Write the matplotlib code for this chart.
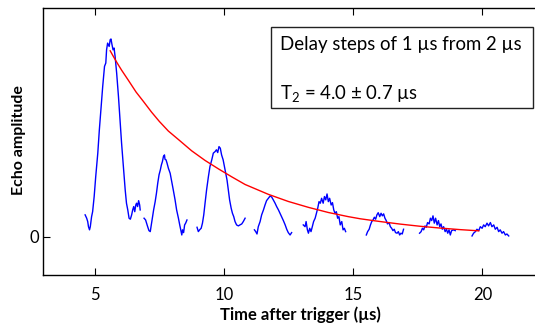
import matplotlib
matplotlib.use("Agg")
import matplotlib.pyplot as plt
from matplotlib.patches import Rectangle

# Trazas del eco (tiempo en us, amplitud normalizada al pico)
eco1_t = [4.63, 4.69, 4.73, 4.76, 4.80, 4.83, 4.88, 4.92, 4.98, 5.04, 5.12, 5.18, 5.25, 5.31, 5.38,
          5.43, 5.46, 5.50, 5.56, 5.60, 5.63, 5.67, 5.71, 5.75, 5.79, 5.85, 5.92, 5.98, 6.04, 6.11,
          6.18, 6.23, 6.28, 6.33, 6.38, 6.43, 6.47, 6.51, 6.55, 6.59, 6.62, 6.66, 6.70, 6.74, 6.76]
eco1_y = [0.112, 0.095, 0.078, 0.052, 0.036, 0.052, 0.103, 0.128, 0.205, 0.306, 0.425, 0.543, 0.661, 0.763, 0.865,
          0.882, 0.949, 0.983, 0.966, 1.000, 1.004, 0.975, 0.949, 0.958, 0.915, 0.831, 0.712, 0.594, 0.476, 0.357,
          0.239, 0.171, 0.137, 0.095, 0.090, 0.112, 0.137, 0.154, 0.128, 0.162, 0.171, 0.154, 0.184, 0.162, 0.137]

eco2_t = [6.91, 6.97, 7.04, 7.10, 7.15, 7.19, 7.24, 7.28, 7.34, 7.39, 7.44, 7.49, 7.54, 7.58, 7.62,
          7.66, 7.70, 7.72, 7.76, 7.80, 7.85, 7.92, 7.98, 8.04, 8.11, 8.17, 8.24, 8.29, 8.33, 8.37,
          8.40, 8.44, 8.48, 8.52, 8.57]
eco2_y = [0.095, 0.086, 0.056, 0.032, 0.027, 0.061, 0.103, 0.137, 0.179, 0.222, 0.273, 0.315, 0.340, 0.365, 0.382,
          0.408, 0.416, 0.394, 0.391, 0.374, 0.349, 0.323, 0.281, 0.239, 0.188, 0.137, 0.095, 0.061, 0.036, 0.010,
          0.036, 0.022, 0.061, 0.070, 0.086]

eco3_t = [8.96, 9.01, 9.06, 9.12, 9.17, 9.22, 9.27, 9.33, 9.40, 9.46, 9.53, 9.59, 9.66, 9.71, 9.76,
          9.81, 9.86, 9.91, 9.97, 10.02, 10.07, 10.12, 10.17, 10.22, 10.28, 10.33, 10.38, 10.43, 10.49, 10.56,
          10.62, 10.69, 10.75, 10.82]
eco3_y = [0.049, 0.027, 0.036, 0.044, 0.070, 0.112, 0.171, 0.239, 0.306, 0.357, 0.391, 0.425, 0.433, 0.442, 0.428,
          0.458, 0.450, 0.416, 0.391, 0.357, 0.323, 0.289, 0.239, 0.188, 0.146, 0.120, 0.103, 0.078, 0.061, 0.056,
          0.061, 0.066, 0.078, 0.095]

eco4_t = [11.18, 11.23, 11.28, 11.33, 11.40, 11.46, 11.53, 11.59, 11.65, 11.72, 11.79, 11.85, 11.91, 11.98, 12.04,
          12.11, 12.17, 12.23, 12.30, 12.37, 12.43, 12.49, 12.56, 12.62]
eco4_y = [0.036, 0.027, 0.015, 0.052, 0.078, 0.112, 0.137, 0.162, 0.184, 0.196, 0.208, 0.202, 0.188, 0.171, 0.154,
          0.137, 0.120, 0.103, 0.083, 0.061, 0.039, 0.022, 0.010, 0.022]

eco5_t = [13.07, 13.14, 13.18, 13.23, 13.27, 13.32, 13.37, 13.42, 13.47, 13.53, 13.58, 13.63, 13.68, 13.73, 13.78,
          13.84, 13.89, 13.94, 13.99, 14.04, 14.09, 14.15, 14.20, 14.25, 14.30, 14.35, 14.40, 14.45, 14.50, 14.56,
          14.61, 14.66, 14.71]
eco5_y = [0.061, 0.052, 0.078, 0.036, 0.019, 0.044, 0.027, 0.052, 0.078, 0.095, 0.120, 0.146, 0.179, 0.171, 0.196,
          0.171, 0.205, 0.188, 0.218, 0.179, 0.196, 0.162, 0.174, 0.137, 0.120, 0.128, 0.095, 0.103, 0.061, 0.078,
          0.036, 0.044, 0.027]

eco6_t = [15.51, 15.56, 15.62, 15.67, 15.72, 15.77, 15.82, 15.87, 15.92, 15.97, 16.03, 16.08, 16.13, 16.18, 16.23,
          16.28, 16.33, 16.39, 16.44, 16.49, 16.54, 16.59, 16.64, 16.70, 16.75, 16.80, 16.85, 16.90, 16.95]
eco6_y = [0.010, 0.027, 0.039, 0.061, 0.078, 0.086, 0.100, 0.090, 0.112, 0.123, 0.103, 0.120, 0.107, 0.117, 0.095,
          0.083, 0.066, 0.073, 0.052, 0.044, 0.032, 0.039, 0.022, 0.019, 0.027, 0.010, 0.019, 0.015, 0.039]

eco7_t = [17.57, 17.63, 17.68, 17.73, 17.78, 17.83, 17.88, 17.94, 17.99, 18.04, 18.09, 18.14, 18.19, 18.25, 18.30,
          18.35, 18.40, 18.45, 18.50, 18.56, 18.61, 18.66, 18.71, 18.76, 18.81, 18.89, 18.95]
eco7_y = [0.019, 0.027, 0.044, 0.036, 0.056, 0.049, 0.073, 0.066, 0.095, 0.083, 0.107, 0.070, 0.095, 0.061, 0.083,
          0.052, 0.066, 0.039, 0.052, 0.027, 0.039, 0.019, 0.036, 0.010, 0.032, 0.036, 0.032]

eco8_t = [19.60, 19.66, 19.73, 19.79, 19.86, 19.92, 19.99, 20.05, 20.11, 20.18, 20.24, 20.31, 20.37, 20.44, 20.50,
          20.57, 20.63, 20.69, 20.76, 20.82, 20.89, 20.95, 21.02]
eco8_y = [0.005, 0.019, 0.027, 0.039, 0.032, 0.052, 0.044, 0.061, 0.052, 0.070, 0.056, 0.073, 0.052, 0.061, 0.039,
          0.049, 0.027, 0.036, 0.019, 0.027, 0.010, 0.015, 0.005]

# Ajuste exponencial (T2 = 4.0 us)
ajuste_t = [5.60, 5.72, 5.88, 6.04, 6.30, 6.60, 6.88, 7.20, 7.50, 7.85, 8.24, 8.75, 9.27, 9.79, 10.30, 10.82,
            11.72, 12.49, 13.27, 14.04, 14.81, 15.28, 16.05, 16.83, 17.60, 18.37, 19.15, 19.86]
ajuste_y = [0.944, 0.916, 0.880, 0.846, 0.795, 0.735, 0.688, 0.633, 0.586, 0.537, 0.494, 0.437, 0.388, 0.345,
            0.305, 0.266, 0.216, 0.180, 0.150, 0.124, 0.103, 0.092, 0.078, 0.065, 0.054, 0.045, 0.037, 0.031]

ticks_x = [5, 10, 15, 20]

ecos = [(eco1_t, eco1_y), (eco2_t, eco2_y), (eco3_t, eco3_y), (eco4_t, eco4_y),
        (eco5_t, eco5_y), (eco6_t, eco6_y), (eco7_t, eco7_y), (eco8_t, eco8_y)]

plt.rcParams['font.family'] = ['Lato', 'DejaVu Sans']
plt.rcParams['mathtext.fontset'] = 'custom'
plt.rcParams['mathtext.rm'] = 'Lato'

fig = plt.figure(figsize=(5.35, 3.26), dpi=100)
ax = fig.add_axes([43 / 535, 51 / 326, 497 / 535, 267 / 326])

for t, y in ecos:
    ax.plot(t, y, color='#0000ff', lw=1.0)
ax.plot(ajuste_t, ajuste_y, color='#ff0000', lw=1.0)

ax.set_xlim(3.0, 22.23)
ax.set_ylim(-0.193, 1.161)
ax.set_xticks(ticks_x)
ax.set_yticks([0])
ax.tick_params(axis='x', direction='in', top=True, length=5, width=0.8, labelsize=12, pad=9)
ax.tick_params(axis='y', direction='in', length=5, width=0.8, labelsize=12, pad=3)
for s in ax.spines.values():
    s.set_linewidth(1.0)

ax.set_xlabel("Time after trigger (µs)", fontsize=12, fontweight='bold')
ax.xaxis.set_label_coords(257 / 497, -0.118)
ax.xaxis.label.set_va('top')
ax.set_ylabel("Echo amplitude", fontsize=11.5, fontweight='bold')
ax.yaxis.set_label_coords(-17 / 497, 0.507)

# Cuadro con la anotacion
fig.add_artist(Rectangle((271 / 535, 218 / 326), 262 / 535, 81 / 326, transform=fig.transFigure,
                         facecolor='white', edgecolor='#222222', lw=1.0))
fig.text(280 / 535, 0.862, "Delay steps of 1 µs from 2 µs", fontsize=13.4, va='center')
fig.text(280 / 535, 0.712, r"T$_\mathrm{2}$ = 4.0 ± 0.7 µs", fontsize=13.4, va='center')

fig.savefig("out.png", dpi=100)
